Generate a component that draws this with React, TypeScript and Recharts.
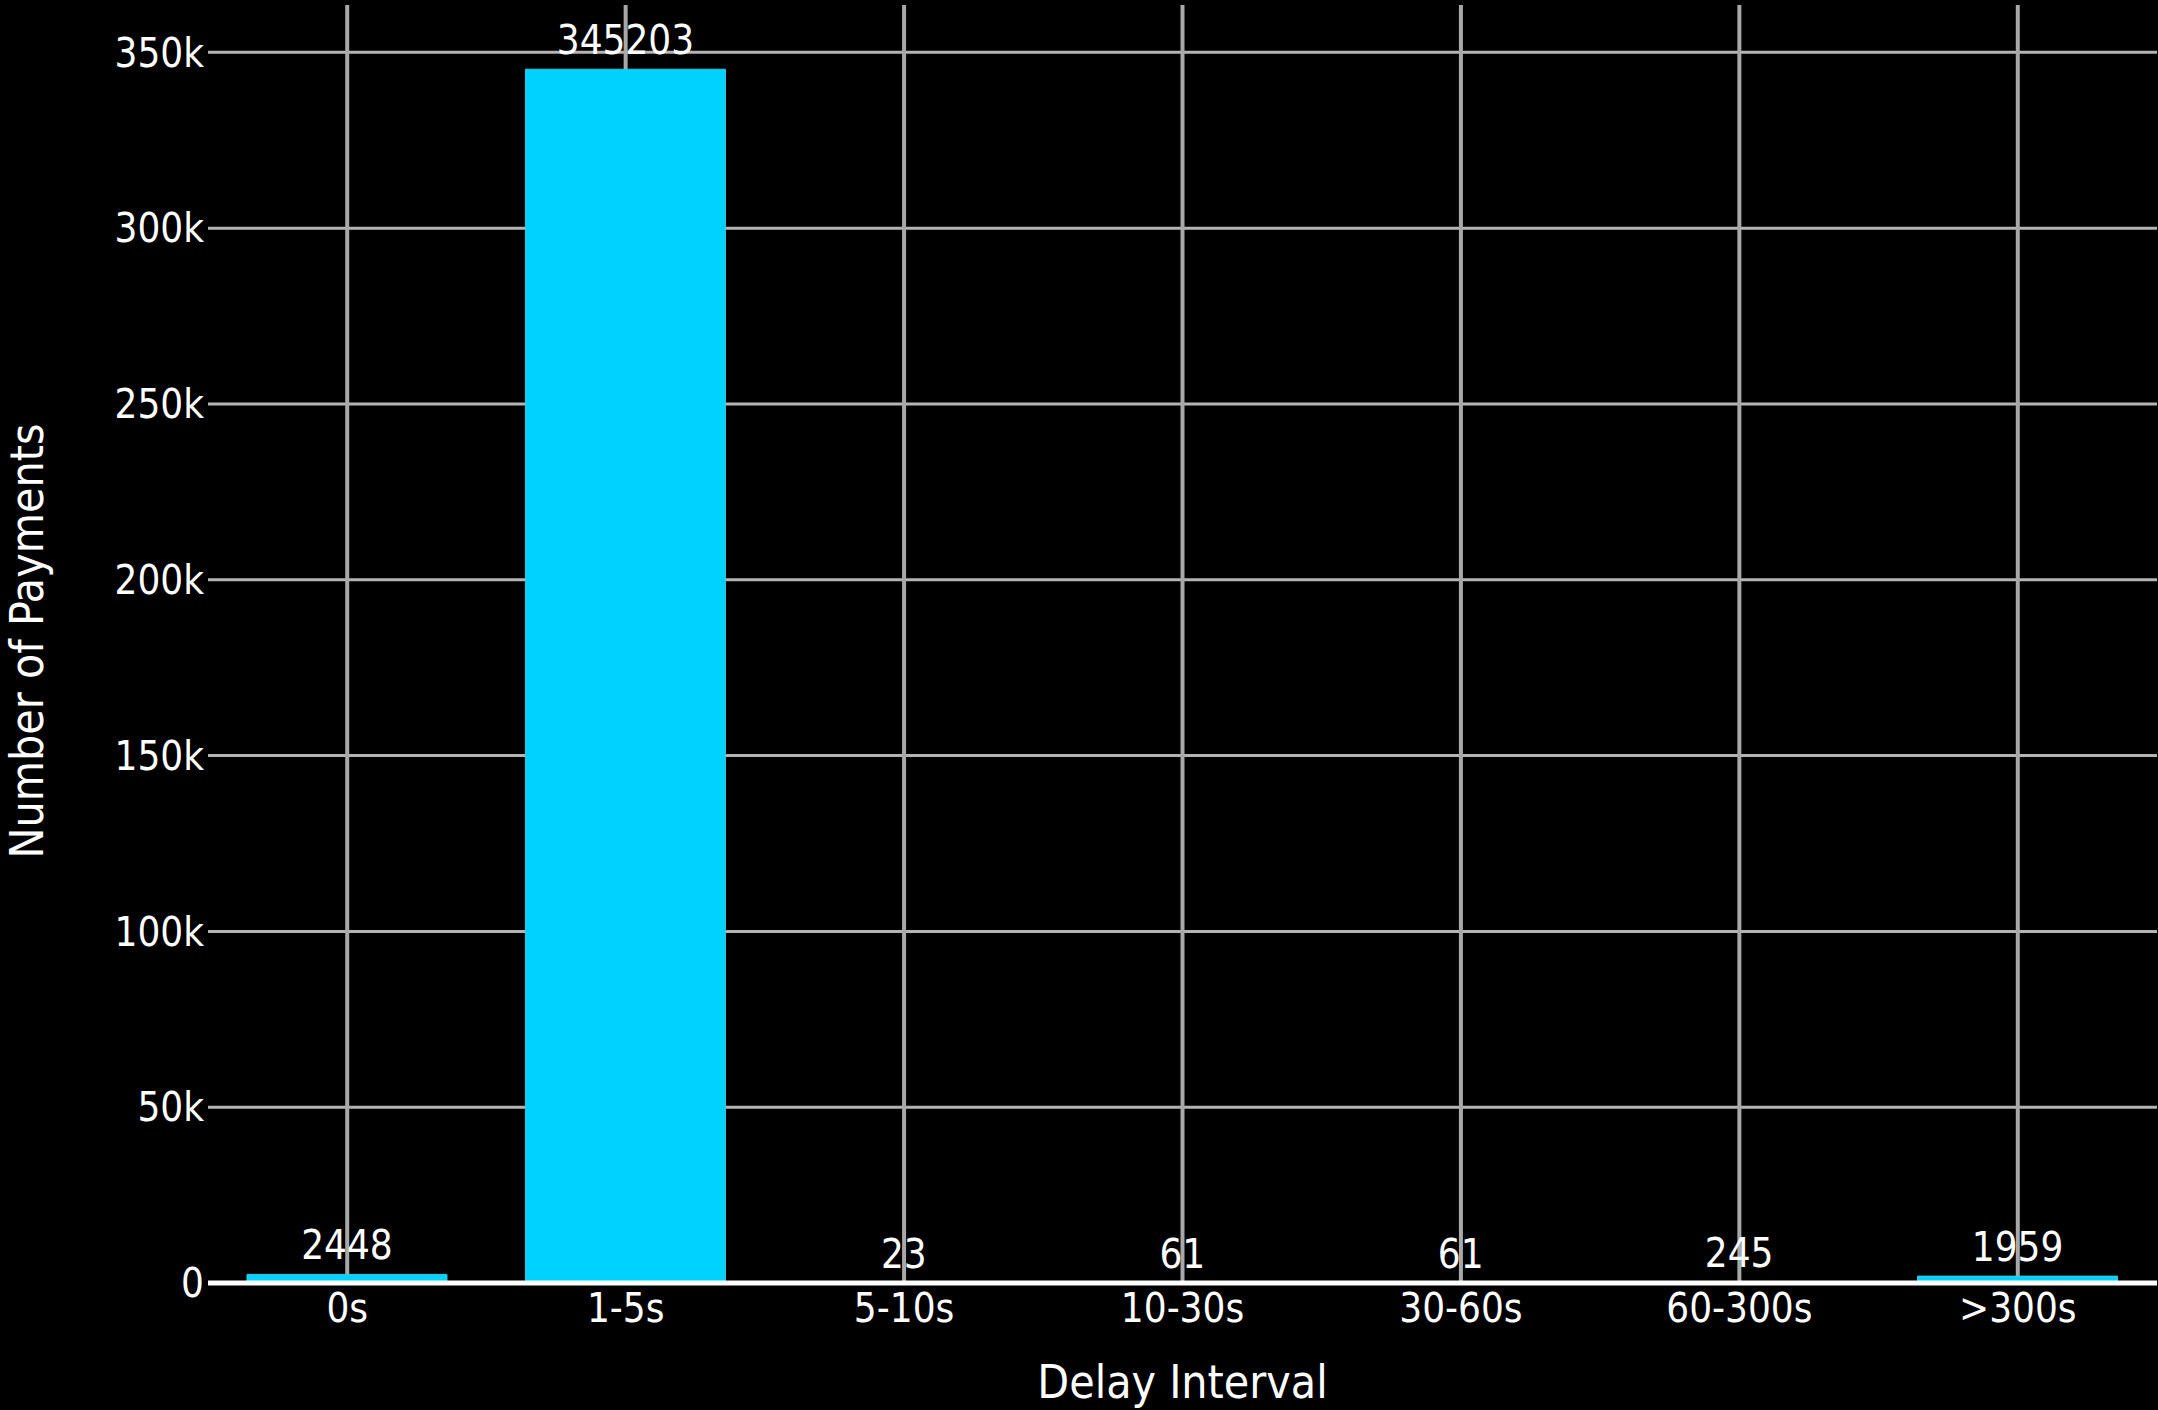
import { BarChart, Bar, XAxis, YAxis, CartesianGrid, LabelList } from "recharts";

const categories = ["0s", "1-5s", "5-10s", "10-30s", "30-60s", "60-300s", ">300s"];
const counts = [2448, 345203, 23, 61, 61, 245, 1959];
const yTicks = [0, 50000, 100000, 150000, 200000, 250000, 300000, 350000];
const yMax = 363463;

const FONT = "'DejaVu Sans Condensed', 'DejaVu Sans', sans-serif";

const chartData = categories.map((name, i) => ({ name, count: counts[i] }));

const formatK = (v: number) => (v === 0 ? "0" : `${v / 1000}k`);

const YTitle = (props: any) => {
  const vb = props.viewBox;
  const cx = 27;
  const cy = vb.y + vb.height / 2 - 3;
  return (
    <text
      x={cx}
      y={cy}
      transform={`rotate(-90, ${cx}, ${cy})`}
      textAnchor="middle"
      dominantBaseline="central"
      fill="#ffffff"
      fontSize={46}
      fontFamily={FONT}
    >
      Number of Payments
    </text>
  );
};

const XTitle = (props: any) => {
  const vb = props.viewBox;
  return (
    <text
      x={vb.x + vb.width / 2}
      y={vb.y + 115}
      textAnchor="middle"
      fill="#ffffff"
      fontSize={46}
      fontFamily={FONT}
    >
      Delay Interval
    </text>
  );
};

export default function App() {
  return (
    <div
      style={{
        position: "absolute",
        left: 0,
        top: 0,
        width: 2158,
        height: 1410,
        background: "#000000",
      }}
    >
      <BarChart
        width={2158}
        height={1410}
        data={chartData}
        margin={{ top: 5, right: 1, left: 0, bottom: 0 }}
        barCategoryGap="14%"
      >
        <CartesianGrid horizontal={true} vertical={false} syncWithTicks stroke="#b4b4b4" strokeWidth={3} />
        <CartesianGrid horizontal={false} vertical={true} syncWithTicks stroke="#a8a8a8" strokeWidth={4} />
        <XAxis
          dataKey="name"
          height={127}
          tickSize={0}
          tickMargin={11}
          axisLine={{ stroke: "#ffffff", strokeWidth: 5 }}
          tickLine={false}
          tick={{ fill: "#ffffff", fontSize: 40, fontFamily: FONT }}
          interval={0}
          label={<XTitle />}
        />
        <YAxis
          width={208}
          domain={[0, yMax]}
          ticks={yTicks}
          tickFormatter={formatK}
          tickSize={0}
          tickMargin={4}
          axisLine={false}
          tickLine={false}
          tick={{ fill: "#ffffff", fontSize: 40, fontFamily: FONT }}
          allowDataOverflow
          label={<YTitle />}
        />
        <Bar dataKey="count" fill="#00d2ff" stroke="#3ac6e4" strokeWidth={1} isAnimationActive={false}>
          <LabelList
            dataKey="count"
            position="top"
            offset={15}
            fill="#ffffff"
            fontSize={40}
            fontFamily={FONT}
          />
        </Bar>
      </BarChart>
    </div>
  );
}
